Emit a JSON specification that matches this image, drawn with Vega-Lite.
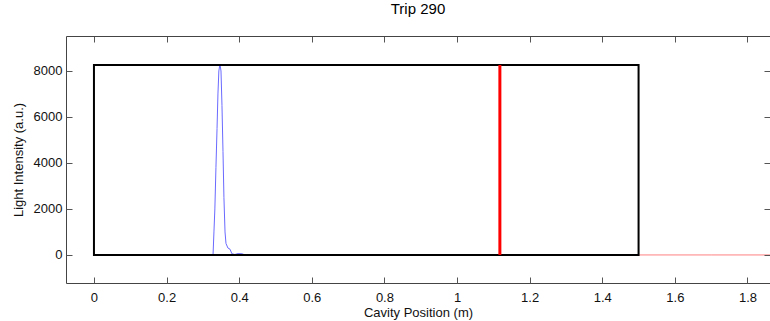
{
  "$schema": "https://vega.github.io/schema/vega-lite/v6.json",
  "width": 704,
  "height": 247,
  "autosize": "none",
  "background": "white",
  "padding": {"left": 66, "top": 36, "right": 0, "bottom": 38},
  "title": {"text": "Trip 290", "fontSize": 15, "font": "Liberation Sans", "fontWeight": "normal", "color": "#000", "offset": 19, "anchor": "middle"},
  "config": {
    "view": {"stroke": null, "fill": null},
    "axis": {"grid": false, "zindex": 2, "domainColor": "#444", "domainWidth": 1, "tickColor": "#555", "tickSize": 6, "labelFont": "Liberation Sans", "labelFontSize": 13, "labelColor": "#111", "titleFont": "Liberation Sans", "titleFontSize": 13, "titleFontWeight": "normal", "titleColor": "#111"}
  },
  "datasets": {
    "box": [{"x0": 0, "x1": 1.5, "y0": 0, "y1": 8260}],
    "marker": [{"x": 1.118, "y0": 0, "y1": 8260}],
    "spike": [
      {"x": 0.0, "y": 0}, {"x": 0.328, "y": 0}, {"x": 0.3305, "y": 1000}, {"x": 0.333, "y": 2000},
      {"x": 0.336, "y": 3800}, {"x": 0.339, "y": 5500}, {"x": 0.3415, "y": 7000}, {"x": 0.344, "y": 8000},
      {"x": 0.347, "y": 8300}, {"x": 0.3499, "y": 8000}, {"x": 0.3526, "y": 6500}, {"x": 0.3554, "y": 4500},
      {"x": 0.358, "y": 2500}, {"x": 0.361, "y": 1000}, {"x": 0.3636, "y": 500}, {"x": 0.369, "y": 300},
      {"x": 0.3747, "y": 250}, {"x": 0.38, "y": 50}, {"x": 0.388, "y": 20}, {"x": 0.397, "y": 60},
      {"x": 0.408, "y": 50}, {"x": 0.416, "y": 0}, {"x": 1.5, "y": 0}
    ],
    "tail": [{"x": 1.5, "y": 0}, {"x": 1.7, "y": 0}, {"x": 1.9, "y": 0}]
  },
  "resolve": {"axis": {"x": "independent", "y": "independent"}},
  "layer": [
    {
      "data": {"name": "tail"},
      "mark": {"type": "line", "color": "#ff8080", "strokeWidth": 1, "clip": true},
      "encoding": {
        "x": {"field": "x", "type": "quantitative", "scale": {"domain": [-0.077, 1.862], "nice": false, "zero": false},
              "axis": {"orient": "bottom", "format": "~g", "values": [0, 0.2, 0.4, 0.6, 0.8, 1, 1.2, 1.4, 1.6, 1.8], "ticks": false, "labelPadding": 8, "title": "Cavity Position (m)", "titlePadding": 2}},
        "y": {"field": "y", "type": "quantitative", "scale": {"domain": [-1220, 9520], "nice": false, "zero": false},
              "axis": {"orient": "left", "format": "d", "values": [0, 2000, 4000, 6000, 8000], "ticks": false, "labelPadding": 4, "title": "Light Intensity (a.u.)", "titlePadding": 8}}
      }
    },
    {
      "data": {"name": "spike"},
      "mark": {"type": "line", "color": "#6a6aff", "strokeWidth": 1, "clip": true},
      "encoding": {
        "x": {"field": "x", "type": "quantitative", "axis": {"orient": "bottom", "offset": -247, "zindex": 2, "ticks": true, "tickSize": 6, "values": [0, 0.2, 0.4, 0.6, 0.8, 1, 1.2, 1.4, 1.6, 1.8], "labels": false, "title": null}},
        "y": {"field": "y", "type": "quantitative", "axis": {"orient": "left", "offset": -704, "zindex": 2, "ticks": true, "tickSize": 6, "values": [0, 2000, 4000, 6000, 8000], "labels": false, "title": null}}
      }
    },
    {
      "data": {"name": "box"},
      "mark": {"type": "rect", "fill": "transparent", "stroke": "#000", "strokeWidth": 2},
      "encoding": {
        "x": {"field": "x0", "type": "quantitative", "axis": {"orient": "top", "offset": -247, "zindex": 2, "ticks": true, "tickSize": 6, "values": [0, 0.2, 0.4, 0.6, 0.8, 1, 1.2, 1.4, 1.6, 1.8], "labels": false, "domain": false, "title": null}},
        "x2": {"field": "x1"},
        "y": {"field": "y0", "type": "quantitative", "axis": {"orient": "right", "offset": -704, "zindex": 2, "ticks": true, "tickSize": 6, "values": [0, 2000, 4000, 6000, 8000], "labels": false, "domain": false, "title": null}},
        "y2": {"field": "y1"}
      }
    },
    {
      "data": {"name": "marker"},
      "mark": {"type": "rule", "color": "#ff0000", "strokeWidth": 3},
      "encoding": {
        "x": {"field": "x", "type": "quantitative", "axis": null},
        "y": {"field": "y0", "type": "quantitative", "axis": null},
        "y2": {"field": "y1"}
      }
    }
  ]
}
